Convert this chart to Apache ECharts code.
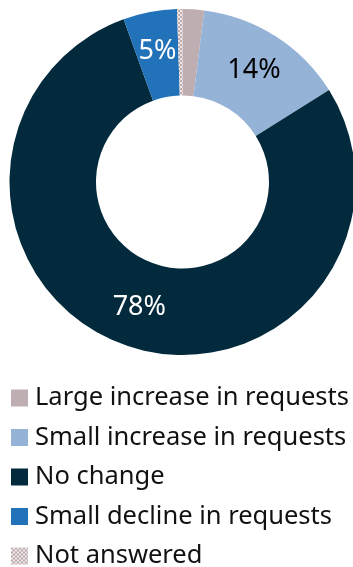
<!DOCTYPE html>
<html>
<head>
<meta charset="utf-8">
<script src="https://cdn.jsdelivr.net/npm/echarts@6/dist/echarts.min.js"></script>
<style>html,body{margin:0;padding:0;background:#fff}#chart{width:353px;height:567px}</style>
</head>
<body>
<div id="chart"></div>
<script>
// Survey responses: change in requests (percent of respondents)
const categories = ['Large increase in requests', 'Small increase in requests', 'No change', 'Small decline in requests', 'Not answered'];
const shares = [2, 14, 78, 5, 0.5];
const showLabel = [false, true, true, true, false];

// checkered fill for the "Not answered" slice
function checker() {
  const c = document.createElement('canvas');
  c.width = 4; c.height = 4;
  const g = c.getContext('2d');
  g.fillStyle = '#eee8e9'; g.fillRect(0, 0, 4, 4);
  g.fillStyle = '#bcaaad'; g.fillRect(0, 0, 2, 2); g.fillRect(2, 2, 2, 2);
  return c;
}
const colors = ['#bfaeb1', '#95b3d7', '#022a3c', '#2272b9', { image: checker(), repeat: 'repeat' }];
const labelColors = ['#000', '#000', '#fff', '#fff', '#000'];

const font = '"Noto Sans", sans-serif';
const chart = echarts.init(document.getElementById('chart'), null, { renderer: 'canvas' });
chart.setOption({
  animation: false,
  legend: {
    orient: 'vertical',
    left: 11,
    top: 385,
    padding: 0,
    height: 240,
    itemWidth: 17,
    itemHeight: 17,
    itemGap: 13.5,
    icon: 'rect',
    selectedMode: false,
    textStyle: { fontFamily: font, fontSize: 25.5, lineHeight: 25, color: '#111', padding: [0, 0, 0, 2] },
    data: categories
  },
  series: [{
    type: 'pie',
    center: [182.5, 182],
    radius: [86.5, 173],
    startAngle: 90,
    clockwise: true,
    avoidLabelOverlap: false,
    label: {
      position: 'inside',
      fontFamily: font,
      fontSize: 27,
      formatter: p => p.value + '%'
    },
    labelLine: { show: false },
    emphasis: { disabled: true },
    data: categories.map((name, i) => ({
      name,
      value: shares[i],
      itemStyle: { color: colors[i] },
      label: { show: showLabel[i], color: labelColors[i] }
    }))
  }]
});
</script>
</body>
</html>
